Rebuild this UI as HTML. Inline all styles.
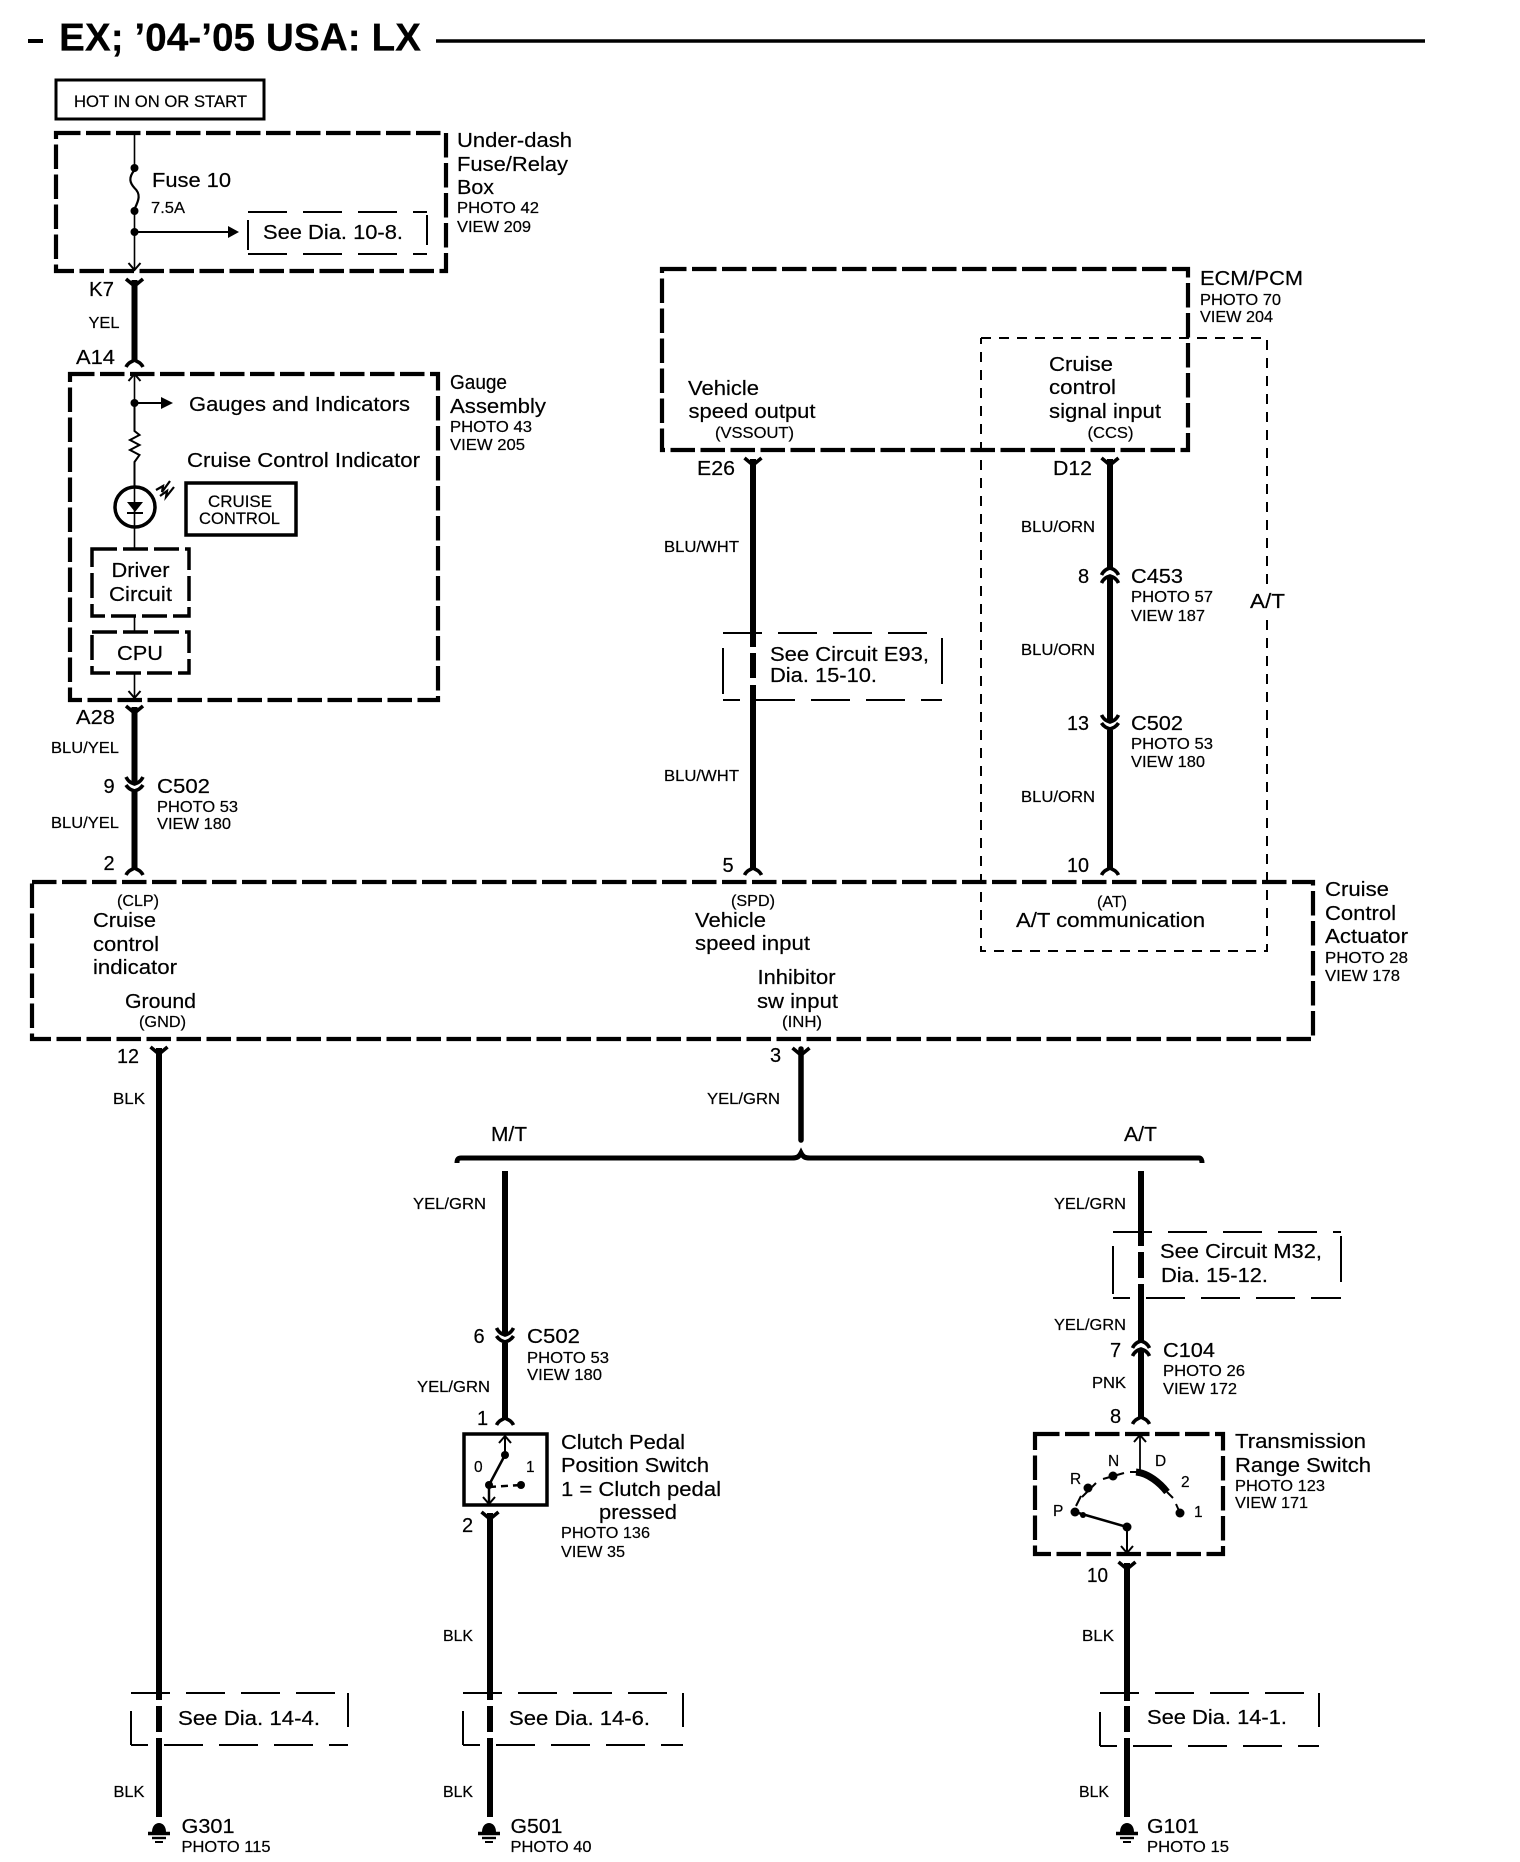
<!DOCTYPE html>
<html><head><meta charset="utf-8"><style>
html,body{margin:0;padding:0;background:#fff}
svg{display:block}
text{font-family:"Liberation Sans",sans-serif;fill:#000;stroke:#000;stroke-width:.2}
.a{font-size:20px}.b{font-size:15.5px}.t{font-size:39px;font-weight:bold}
.w{stroke:#000;stroke-width:6;fill:none}
.n{stroke:#000;stroke-width:1.6;fill:none}
.h{stroke:#000;stroke-width:4.2;fill:none;stroke-dasharray:24.5 5.5}
.m{stroke:#000;stroke-width:3.5;fill:none;stroke-dasharray:25 6}
.d{stroke:#000;stroke-width:2;fill:none}
.dd{stroke:#000;stroke-width:2;fill:none;stroke-dasharray:39 16}
.at{stroke:#000;stroke-width:2;fill:none;stroke-dasharray:10 8}
.c{stroke:#000;stroke-width:3.6;fill:none}
</style></head><body>
<svg width="1520" height="1862" viewBox="0 0 1520 1862" xmlns="http://www.w3.org/2000/svg">
<defs>
<path id="y" d="M-8.5 0L0 7L8.5 0" class="c"/>
<path id="f" d="M-8.5 0C-6 -5 -3 -5 0 -7C3 -5 6 -5 8.5 0" class="c"/>
<g id="vv"><path d="M-8.5 0C-6 5 -3 6 0 7C3 6 6 5 8.5 0" class="c"/><path d="M-8.5 8C-6 12 -3 13 0 14C3 13 6 12 8.5 8" class="c"/></g>
<g id="uu"><path d="M-8.5 7C-6 2 -3 1 0 0C3 1 6 2 8.5 7" class="c"/><path d="M-8.5 15C-6 10 -3 9 0 8C3 9 6 10 8.5 15" class="c"/></g>
<path id="ad" d="M-6 -7L0 0L6 -7" fill="none" stroke="#000" stroke-width="2"/>
<path id="au" d="M-6 7L0 0L6 7" fill="none" stroke="#000" stroke-width="2"/>
<g id="gnd"><path d="M-7 10C-7 -2 7 -2 7 10Z" fill="#000"/><path d="M-11 11.5H11" stroke="#000" stroke-width="3.4"/><path d="M-7 16H7" stroke="#000" stroke-width="2.4"/><path d="M-4 20H4" stroke="#000" stroke-width="2"/></g>
</defs>

<!-- title -->
<path d="M28 41H43" stroke="#000" stroke-width="4"/>
<text class="t" x="59" y="50.5" textLength="362" lengthAdjust="spacingAndGlyphs">EX; ’04-’05 USA: LX</text>
<path d="M436 41H1425" stroke="#000" stroke-width="3.5"/>

<!-- hot box -->
<rect x="56" y="80" width="208" height="39" fill="none" stroke="#000" stroke-width="3"/>
<text x="74" y="107" font-size="16.5" textLength="173" lengthAdjust="spacingAndGlyphs">HOT IN ON OR START</text>

<!-- under-dash -->
<rect x="56" y="133" width="390" height="138" class="h"/>
<path d="M134.5 133V172M134.5 207V270" class="n"/>
<circle cx="134.5" cy="168" r="4"/><circle cx="134.5" cy="211" r="4"/><circle cx="134.5" cy="232" r="4"/>
<path d="M134.5 170C128 178 130 183 134.5 188C141 194 139 200 134.5 209" fill="none" stroke="#000" stroke-width="2.2"/>
<use href="#ad" x="134.5" y="270"/>
<path d="M134.5 232H230" stroke="#000" stroke-width="2"/><path d="M228 226L239 232L228 238Z"/>
<path d="M248 212H427" class="dd"/><path d="M248 254H427" class="dd"/><path d="M248 220V250M427 215V245" class="d"/>
<text class="a" x="152" y="187" textLength="79" lengthAdjust="spacingAndGlyphs">Fuse 10</text>
<text x="151" y="213" font-size="15.5" textLength="34" lengthAdjust="spacingAndGlyphs">7.5A</text>
<text class="a" x="263" y="239" textLength="140" lengthAdjust="spacingAndGlyphs">See Dia. 10-8.</text>
<text class="a" x="457" y="147" textLength="115" lengthAdjust="spacingAndGlyphs">Under-dash</text>
<text class="a" x="457" y="171" textLength="111" lengthAdjust="spacingAndGlyphs">Fuse/Relay</text>
<text class="a" x="457" y="194" textLength="37" lengthAdjust="spacingAndGlyphs">Box</text>
<text class="b" x="457" y="213" textLength="82" lengthAdjust="spacingAndGlyphs">PHOTO 42</text>
<text class="b" x="457" y="232" textLength="74" lengthAdjust="spacingAndGlyphs">VIEW 209</text>

<!-- K7 -->
<use href="#y" x="134.5" y="279"/><path d="M134.5 280V361" class="w"/><use href="#f" x="134.5" y="367"/>
<text class="a" x="89" y="296" textLength="25" lengthAdjust="spacingAndGlyphs">K7</text>
<text class="b" x="88.5" y="328" textLength="31" lengthAdjust="spacingAndGlyphs">YEL</text>
<text class="a" x="76" y="364" textLength="39" lengthAdjust="spacingAndGlyphs">A14</text>

<!-- gauge -->
<rect x="70" y="374" width="368" height="326" class="h"/>
<path d="M134.5 374V403" class="n"/><use href="#au" x="134.5" y="374"/>
<circle cx="134.5" cy="403" r="4"/>
<path d="M134.5 403H164" stroke="#000" stroke-width="2"/><path d="M161 397L173 403L161 409Z"/>
<path d="M134.5 403V431L139.5 435L130 440L139.5 445L130 450L139.5 455L134.5 462V487" class="n" style="stroke-width:2"/>
<circle cx="135" cy="507" r="20" fill="none" stroke="#000" stroke-width="3.5"/>
<path d="M134.5 487V549" class="n"/>
<path d="M127 502H143L135 512Z"/><path d="M127 513H143" stroke="#000" stroke-width="2"/>
<path d="M156 490L163 486L162 492L170 481M160 496L167 491L166 497L174 487" fill="none" stroke="#000" stroke-width="2.2"/>
<rect x="186" y="483" width="110" height="52" fill="none" stroke="#000" stroke-width="3.5"/>
<text x="208" y="507" font-size="16.5" textLength="64" lengthAdjust="spacingAndGlyphs">CRUISE</text>
<text x="199" y="524" font-size="16.5" textLength="81" lengthAdjust="spacingAndGlyphs">CONTROL</text>
<rect x="92" y="549" width="97" height="67" class="m"/>
<rect x="92" y="632" width="97" height="41" class="m"/>
<path d="M134.5 616V632M134.5 673V698" class="n"/><use href="#ad" x="134.5" y="698"/>
<text class="a" x="189" y="411" textLength="221" lengthAdjust="spacingAndGlyphs">Gauges and Indicators</text>
<text class="a" x="187" y="467" textLength="233" lengthAdjust="spacingAndGlyphs">Cruise Control Indicator</text>
<text class="a" x="111.5" y="577" textLength="58" lengthAdjust="spacingAndGlyphs">Driver</text>
<text class="a" x="109" y="601" textLength="63" lengthAdjust="spacingAndGlyphs">Circuit</text>
<text class="a" x="117" y="660" textLength="46" lengthAdjust="spacingAndGlyphs">CPU</text>
<text class="a" x="450" y="389" textLength="57" lengthAdjust="spacingAndGlyphs">Gauge</text>
<text class="a" x="450" y="413" textLength="96" lengthAdjust="spacingAndGlyphs">Assembly</text>
<text class="b" x="450" y="432" textLength="82" lengthAdjust="spacingAndGlyphs">PHOTO 43</text>
<text class="b" x="450" y="450" textLength="75" lengthAdjust="spacingAndGlyphs">VIEW 205</text>

<!-- A28 -->
<use href="#y" x="134.5" y="706"/><path d="M134.5 707V782M134.5 790V870" class="w"/>
<use href="#vv" x="134.5" y="777"/><use href="#f" x="134.5" y="875"/>
<text class="a" x="76" y="724" textLength="39" lengthAdjust="spacingAndGlyphs">A28</text>
<text class="b" x="51" y="753" textLength="68" lengthAdjust="spacingAndGlyphs">BLU/YEL</text>
<text class="a" x="103.5" y="793">9</text>
<text class="a" x="157" y="793" textLength="53" lengthAdjust="spacingAndGlyphs">C502</text>
<text class="b" x="157" y="812" textLength="81" lengthAdjust="spacingAndGlyphs">PHOTO 53</text>
<text class="b" x="157" y="829" textLength="74" lengthAdjust="spacingAndGlyphs">VIEW 180</text>
<text class="b" x="51" y="828" textLength="68" lengthAdjust="spacingAndGlyphs">BLU/YEL</text>
<text class="a" x="103.5" y="870">2</text>

<!-- ECM -->
<rect x="662" y="269" width="526" height="181" class="h"/>
<text class="a" x="688" y="395" textLength="71" lengthAdjust="spacingAndGlyphs">Vehicle</text>
<text class="a" x="688.5" y="418" textLength="127" lengthAdjust="spacingAndGlyphs">speed output</text>
<text class="b" x="715" y="438" textLength="79" lengthAdjust="spacingAndGlyphs">(VSSOUT)</text>
<text class="a" x="1200" y="285" textLength="103" lengthAdjust="spacingAndGlyphs">ECM/PCM</text>
<text class="b" x="1200" y="305" textLength="81" lengthAdjust="spacingAndGlyphs">PHOTO 70</text>
<text class="b" x="1200" y="322" textLength="73" lengthAdjust="spacingAndGlyphs">VIEW 204</text>
<text class="a" x="1049" y="371" textLength="64" lengthAdjust="spacingAndGlyphs">Cruise</text>
<text class="a" x="1049" y="394" textLength="67" lengthAdjust="spacingAndGlyphs">control</text>
<text class="a" x="1049" y="418" textLength="112" lengthAdjust="spacingAndGlyphs">signal input</text>
<text class="b" x="1087.5" y="438" textLength="46" lengthAdjust="spacingAndGlyphs">(CCS)</text>

<!-- A/T dashed -->
<path d="M981 338H1267V590M1267 620V951H981V338" class="at"/>
<text class="a" x="1250" y="608" textLength="35" lengthAdjust="spacingAndGlyphs">A/T</text>

<!-- E26 wire -->
<use href="#y" x="753" y="458"/><path d="M753 459V647M753 653V678M753 685V870" class="w"/><use href="#f" x="753" y="875"/>
<text class="a" x="697" y="475" textLength="38" lengthAdjust="spacingAndGlyphs">E26</text>
<text class="b" x="664" y="552" textLength="75" lengthAdjust="spacingAndGlyphs">BLU/WHT</text>
<text class="b" x="664" y="781" textLength="75" lengthAdjust="spacingAndGlyphs">BLU/WHT</text>
<path d="M723 633H942" class="dd"/><path d="M723 700H942" class="dd" stroke-dashoffset="22"/><path d="M723 648V694M942 638V684" class="d"/>
<text class="a" x="770" y="661" textLength="159" lengthAdjust="spacingAndGlyphs">See Circuit E93,</text>
<text class="a" x="770" y="682" textLength="107" lengthAdjust="spacingAndGlyphs">Dia. 15-10.</text>
<text class="a" x="722.5" y="872">5</text>

<!-- D12 wire -->
<use href="#y" x="1110" y="458"/><path d="M1110 459V568M1110 578V721M1110 730V870" class="w"/>
<use href="#uu" x="1110" y="568"/><use href="#vv" x="1110" y="715"/><use href="#f" x="1110" y="875"/>
<text class="a" x="1053" y="475" textLength="39" lengthAdjust="spacingAndGlyphs">D12</text>
<text class="b" x="1021" y="532" textLength="74" lengthAdjust="spacingAndGlyphs">BLU/ORN</text>
<text class="a" x="1078" y="583">8</text>
<text class="a" x="1131" y="583" textLength="52" lengthAdjust="spacingAndGlyphs">C453</text>
<text class="b" x="1131" y="602" textLength="82" lengthAdjust="spacingAndGlyphs">PHOTO 57</text>
<text class="b" x="1131" y="621" textLength="74" lengthAdjust="spacingAndGlyphs">VIEW 187</text>
<text class="b" x="1021" y="655" textLength="74" lengthAdjust="spacingAndGlyphs">BLU/ORN</text>
<text class="a" x="1067" y="730" textLength="22" lengthAdjust="spacingAndGlyphs">13</text>
<text class="a" x="1131" y="730" textLength="52" lengthAdjust="spacingAndGlyphs">C502</text>
<text class="b" x="1131" y="749" textLength="82" lengthAdjust="spacingAndGlyphs">PHOTO 53</text>
<text class="b" x="1131" y="767" textLength="74" lengthAdjust="spacingAndGlyphs">VIEW 180</text>
<text class="b" x="1021" y="802" textLength="74" lengthAdjust="spacingAndGlyphs">BLU/ORN</text>
<text class="a" x="1067" y="872" textLength="22" lengthAdjust="spacingAndGlyphs">10</text>

<!-- actuator -->
<rect x="32" y="882" width="1281" height="157" class="h"/>
<text class="b" x="117" y="906" textLength="42" lengthAdjust="spacingAndGlyphs">(CLP)</text>
<text class="a" x="93" y="927" textLength="63" lengthAdjust="spacingAndGlyphs">Cruise</text>
<text class="a" x="93" y="951" textLength="66" lengthAdjust="spacingAndGlyphs">control</text>
<text class="a" x="93" y="974" textLength="84" lengthAdjust="spacingAndGlyphs">indicator</text>
<text class="a" x="125" y="1008" textLength="71" lengthAdjust="spacingAndGlyphs">Ground</text>
<text class="b" x="139" y="1027" textLength="47" lengthAdjust="spacingAndGlyphs">(GND)</text>
<text class="b" x="731" y="906" textLength="44" lengthAdjust="spacingAndGlyphs">(SPD)</text>
<text class="a" x="695" y="927" textLength="71" lengthAdjust="spacingAndGlyphs">Vehicle</text>
<text class="a" x="695" y="950" textLength="115" lengthAdjust="spacingAndGlyphs">speed input</text>
<text class="a" x="757.5" y="984" textLength="78" lengthAdjust="spacingAndGlyphs">Inhibitor</text>
<text class="a" x="757" y="1008" textLength="81" lengthAdjust="spacingAndGlyphs">sw input</text>
<text class="b" x="782" y="1027" textLength="40" lengthAdjust="spacingAndGlyphs">(INH)</text>
<text class="b" x="1097" y="907" textLength="30" lengthAdjust="spacingAndGlyphs">(AT)</text>
<text class="a" x="1016" y="927" textLength="189" lengthAdjust="spacingAndGlyphs">A/T communication</text>
<text class="a" x="1325" y="896" textLength="64" lengthAdjust="spacingAndGlyphs">Cruise</text>
<text class="a" x="1325" y="920" textLength="71" lengthAdjust="spacingAndGlyphs">Control</text>
<text class="a" x="1325" y="943" textLength="83" lengthAdjust="spacingAndGlyphs">Actuator</text>
<text class="b" x="1325" y="963" textLength="83" lengthAdjust="spacingAndGlyphs">PHOTO 28</text>
<text class="b" x="1325" y="981" textLength="75" lengthAdjust="spacingAndGlyphs">VIEW 178</text>

<!-- ground wire -->
<use href="#y" x="159" y="1047"/><path d="M159 1048V1700M159 1706V1732M159 1738V1817" class="w"/>
<text class="a" x="117" y="1063" textLength="22" lengthAdjust="spacingAndGlyphs">12</text>
<text class="b" x="113" y="1104" textLength="32" lengthAdjust="spacingAndGlyphs">BLK</text>
<path d="M131 1693H348" class="dd"/><path d="M131 1745H348" class="dd" stroke-dashoffset="22"/><path d="M131 1711V1745M348 1693V1727" class="d"/>
<text class="a" x="178" y="1725" textLength="142" lengthAdjust="spacingAndGlyphs">See Dia. 14-4.</text>
<text class="b" x="113.5" y="1797" textLength="31" lengthAdjust="spacingAndGlyphs">BLK</text>
<use href="#gnd" x="159" y="1822"/>
<text class="a" x="181.5" y="1833" textLength="53" lengthAdjust="spacingAndGlyphs">G301</text>
<text class="b" x="181.5" y="1852" textLength="89" lengthAdjust="spacingAndGlyphs">PHOTO 115</text>

<!-- inhibitor -->
<use href="#y" x="801" y="1048"/><path d="M801 1049V1140" class="w" stroke-linecap="round" style="stroke-width:5.5"/>
<text class="a" x="770" y="1062">3</text>
<text class="b" x="707" y="1104" textLength="73" lengthAdjust="spacingAndGlyphs">YEL/GRN</text>
<text class="a" x="491" y="1141" textLength="36" lengthAdjust="spacingAndGlyphs">M/T</text>
<text class="a" x="1124" y="1141" textLength="33" lengthAdjust="spacingAndGlyphs">A/T</text>
<path d="M457 1163C457 1159 458 1158 461 1158H792C797 1158 799 1157 801 1153C803 1157 805 1158 810 1158H1199C1201 1158 1202 1160 1202 1163" fill="none" stroke="#000" stroke-width="5"/>

<!-- M/T wire -->
<path d="M505 1171V1333M505 1343V1419" class="w"/>
<use href="#vv" x="505" y="1328"/><use href="#f" x="505" y="1425"/>
<text class="b" x="413" y="1209" textLength="73" lengthAdjust="spacingAndGlyphs">YEL/GRN</text>
<text class="a" x="473.5" y="1343">6</text>
<text class="a" x="527" y="1343" textLength="53" lengthAdjust="spacingAndGlyphs">C502</text>
<text class="b" x="527" y="1363" textLength="82" lengthAdjust="spacingAndGlyphs">PHOTO 53</text>
<text class="b" x="527" y="1380" textLength="75" lengthAdjust="spacingAndGlyphs">VIEW 180</text>
<text class="b" x="417" y="1392" textLength="73" lengthAdjust="spacingAndGlyphs">YEL/GRN</text>
<text class="a" x="477" y="1425">1</text>

<!-- clutch switch -->
<rect x="464" y="1434" width="83" height="71" fill="none" stroke="#000" stroke-width="3.5"/>
<path d="M505 1436V1455" stroke="#000" stroke-width="2"/><use href="#au" x="505" y="1436"/>
<circle cx="505" cy="1455" r="4"/><circle cx="489" cy="1485" r="4"/><circle cx="521" cy="1485" r="4"/>
<path d="M505 1455L489 1485" stroke="#000" stroke-width="2.5"/>
<path d="M489 1485V1504" stroke="#000" stroke-width="2.5"/><use href="#ad" x="489" y="1504"/>
<path d="M489 1487L521 1485" stroke="#000" stroke-width="2.5" stroke-dasharray="7 5"/>
<text x="474" y="1472" font-size="15.5">0</text>
<text x="526" y="1472" font-size="15.5">1</text>
<use href="#y" x="490" y="1512"/><path d="M490 1513V1700M490 1706V1732M490 1738V1817" class="w"/>
<text class="a" x="462" y="1532">2</text>
<text class="a" x="561" y="1449" textLength="124" lengthAdjust="spacingAndGlyphs">Clutch Pedal</text>
<text class="a" x="561" y="1472" textLength="148" lengthAdjust="spacingAndGlyphs">Position Switch</text>
<text class="a" x="561" y="1496" textLength="160" lengthAdjust="spacingAndGlyphs">1 = Clutch pedal</text>
<text class="a" x="599" y="1519" textLength="78" lengthAdjust="spacingAndGlyphs">pressed</text>
<text class="b" x="561" y="1538" textLength="89" lengthAdjust="spacingAndGlyphs">PHOTO 136</text>
<text class="b" x="561" y="1557" textLength="64" lengthAdjust="spacingAndGlyphs">VIEW 35</text>
<text class="b" x="443" y="1641" textLength="30" lengthAdjust="spacingAndGlyphs">BLK</text>
<path d="M463 1693H683" class="dd"/><path d="M463 1745H683" class="dd" stroke-dashoffset="22"/><path d="M463 1711V1745M683 1693V1727" class="d"/>
<text class="a" x="509" y="1725" textLength="141" lengthAdjust="spacingAndGlyphs">See Dia. 14-6.</text>
<text class="b" x="443" y="1797" textLength="30" lengthAdjust="spacingAndGlyphs">BLK</text>
<use href="#gnd" x="489" y="1822"/>
<text class="a" x="510.5" y="1833" textLength="52" lengthAdjust="spacingAndGlyphs">G501</text>
<text class="b" x="510.5" y="1852" textLength="81" lengthAdjust="spacingAndGlyphs">PHOTO 40</text>

<!-- A/T wire -->
<path d="M1141 1171V1246M1141 1252V1278M1141 1284V1341M1141 1351V1418" class="w"/>
<use href="#uu" x="1141" y="1341"/><use href="#f" x="1141" y="1424"/>
<text class="b" x="1054" y="1209" textLength="72" lengthAdjust="spacingAndGlyphs">YEL/GRN</text>
<path d="M1113 1232H1341" class="dd"/><path d="M1113 1298H1341" class="dd" stroke-dashoffset="22"/><path d="M1113 1246V1294M1341 1236V1282" class="d"/>
<text class="a" x="1160" y="1258" textLength="162" lengthAdjust="spacingAndGlyphs">See Circuit M32,</text>
<text class="a" x="1161" y="1282" textLength="107" lengthAdjust="spacingAndGlyphs">Dia. 15-12.</text>
<text class="b" x="1054" y="1330" textLength="72" lengthAdjust="spacingAndGlyphs">YEL/GRN</text>
<text class="a" x="1110" y="1357">7</text>
<text class="a" x="1163" y="1357" textLength="52" lengthAdjust="spacingAndGlyphs">C104</text>
<text class="b" x="1163" y="1376" textLength="82" lengthAdjust="spacingAndGlyphs">PHOTO 26</text>
<text class="b" x="1163" y="1394" textLength="74" lengthAdjust="spacingAndGlyphs">VIEW 172</text>
<text class="b" x="1092" y="1388" textLength="34" lengthAdjust="spacingAndGlyphs">PNK</text>
<text class="a" x="1110" y="1423">8</text>

<!-- range switch -->
<rect x="1035" y="1434" width="188" height="120" class="h"/>
<path d="M1140 1436V1470" stroke="#000" stroke-width="1.8"/><use href="#au" x="1140" y="1435"/>
<path d="M1081 1496L1076 1506" stroke="#000" stroke-width="2"/>
<path d="M1082 1497L1096 1483" stroke="#000" stroke-width="2"/>
<path d="M1103 1479L1124 1473" stroke="#000" stroke-width="2"/>
<path d="M1136 1472C1148 1473 1160 1483 1167 1492" fill="none" stroke="#000" stroke-width="7"/>
<path d="M1167 1492L1173 1498M1176 1504L1180 1513M1130 1472H1140" stroke="#000" stroke-width="2"/>
<circle cx="1075" cy="1512" r="4.5"/><circle cx="1083" cy="1515" r="3"/><circle cx="1088" cy="1488" r="4.5"/><circle cx="1113" cy="1476" r="4.5"/><circle cx="1180" cy="1513" r="4.5"/><circle cx="1127" cy="1527" r="4.5"/>
<path d="M1075 1512L1127 1527" stroke="#000" stroke-width="2.5"/>
<path d="M1127 1527V1553" stroke="#000" stroke-width="2"/><use href="#ad" x="1127" y="1553"/>
<text x="1108" y="1466" font-size="15.5">N</text>
<text x="1155" y="1466" font-size="15.5">D</text>
<text x="1070" y="1484" font-size="15.5">R</text>
<text x="1181" y="1487" font-size="15.5">2</text>
<text x="1053" y="1516" font-size="15.5">P</text>
<text x="1194" y="1517" font-size="15.5">1</text>
<text class="a" x="1235" y="1448" textLength="131" lengthAdjust="spacingAndGlyphs">Transmission</text>
<text class="a" x="1235" y="1472" textLength="136" lengthAdjust="spacingAndGlyphs">Range Switch</text>
<text class="b" x="1235" y="1491" textLength="90" lengthAdjust="spacingAndGlyphs">PHOTO 123</text>
<text class="b" x="1235" y="1508" textLength="73" lengthAdjust="spacingAndGlyphs">VIEW 171</text>
<use href="#y" x="1127" y="1562"/><path d="M1127 1563V1701M1127 1706V1732M1127 1738V1817" class="w"/>
<text class="a" x="1087" y="1582" textLength="21" lengthAdjust="spacingAndGlyphs">10</text>
<text class="b" x="1082" y="1641" textLength="32" lengthAdjust="spacingAndGlyphs">BLK</text>
<path d="M1100 1693H1319" class="dd"/><path d="M1100 1746H1319" class="dd" stroke-dashoffset="22"/><path d="M1100 1712V1746M1319 1693V1727" class="d"/>
<text class="a" x="1147" y="1724" textLength="140" lengthAdjust="spacingAndGlyphs">See Dia. 14-1.</text>
<text class="b" x="1079" y="1797" textLength="30" lengthAdjust="spacingAndGlyphs">BLK</text>
<use href="#gnd" x="1127" y="1822"/>
<text class="a" x="1147" y="1833" textLength="52" lengthAdjust="spacingAndGlyphs">G101</text>
<text class="b" x="1147" y="1852" textLength="82" lengthAdjust="spacingAndGlyphs">PHOTO 15</text>
</svg>
</body></html>
